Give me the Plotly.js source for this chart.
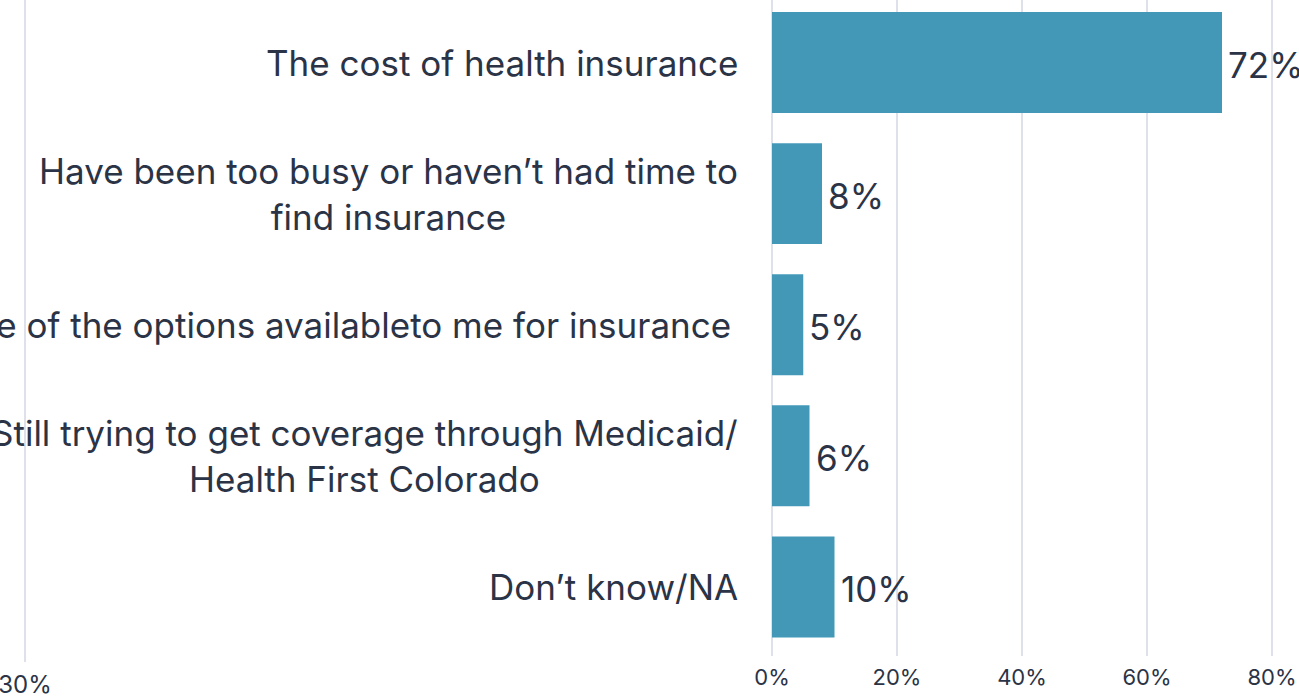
<!DOCTYPE html>
<html>
<head>
<meta charset="utf-8">
<script src="https://cdn.plot.ly/plotly-3.0.1.min.js"></script>
<style>html,body{margin:0;padding:0;background:#fff;}#chart{width:1299px;height:697px;}</style>
</head>
<body>
<div id="chart"></div>
<script>
const categories = [
  "The cost of health insurance",
  "Have been too busy or haven’t had time to<br>find insurance",
  "Not aware of the options availableto me for insurance\u2009",
  "Still trying to get coverage through Medicaid/<br>Health First Colorado",
  "Don’t know/NA"
];
const values = [72, 8, 5, 6, 10];
const valueLabels = ["72%", "8%", "5%", "6%", "10%"];
const tickVals = [0, 20, 40, 60, 80];
const tickText = ["0%", "20%", "40%", "60%", "80%"];
const leftTickVals = [30];
const leftTickText = ["30%"];

const TXT = '#2b3346';
const FONT = 'Inter, "Liberation Sans", Arial, sans-serif';
const W = 1299, H = 697;

const traces = [
  {
    type: 'bar', orientation: 'h',
    x: values, y: categories,
    marker: {color: '#4398b8'},
    width: 0.77,
    hoverinfo: 'none',
    xaxis: 'x', yaxis: 'y'
  },
  {
    type: 'scatter', mode: 'markers', x: [0], y: [-10],
    marker: {opacity: 0},
    xaxis: 'x2', yaxis: 'y2', hoverinfo: 'none', showlegend: false
  }
];

const annotations = [];
categories.forEach((c, i) => {
  annotations.push({
    xref: 'x', yref: 'y', x: 0, y: c, xanchor: 'right', yanchor: 'middle',
    xshift: -32, yshift: 0, text: c, align: 'center', showarrow: false,
    font: {family: FONT, size: 35, color: TXT}
  });
  annotations.push({
    xref: 'x', yref: 'y', x: values[i], y: c, xanchor: 'left', yanchor: 'middle',
    xshift: 4, yshift: -2, text: valueLabels[i], showarrow: false,
    font: {family: FONT, size: 35, color: TXT}
  });
});

const x2Width = 0.2 * W;
const layout = {
  width: W, height: H,
  margin: {l: 0, r: 0, t: 0, b: 35, pad: 0},
  paper_bgcolor: '#ffffff', plot_bgcolor: 'rgba(0,0,0,0)',
  showlegend: false,
  bargap: 0.23,
  xaxis: {
    domain: [772 / W, 1], range: [0, (W - 772) / 6.25],
    tickvals: tickVals, ticktext: tickText,
    showgrid: true, gridcolor: '#dfe1ea', gridwidth: 2,
    zeroline: true, zerolinecolor: '#dfe1ea', zerolinewidth: 2,
    showline: false, ticks: 'outside', ticklen: 2, tickcolor: 'rgba(0,0,0,0)',
    tickfont: {family: FONT, size: 22, color: TXT},
    ticklabeloverflow: 'allow',
    fixedrange: true
  },
  yaxis: {
    domain: [6 / 662, 1],
    type: 'category',
    range: [4.527, -0.477],
    showticklabels: false, showgrid: false, zeroline: false, showline: false,
    ticks: '', fixedrange: true
  },
  xaxis2: {
    domain: [0, 0.2], range: [29, 29 + x2Width / 25], anchor: 'y2',
    tickvals: leftTickVals, ticktext: leftTickText,
    showgrid: true, gridcolor: '#dfe1ea', gridwidth: 2,
    zeroline: false, showline: false,
    ticks: 'outside', ticklen: 1, tickcolor: 'rgba(0,0,0,0)',
    tickfont: {family: FONT, size: 24, color: TXT},
    ticklabeloverflow: 'allow',
    fixedrange: true
  },
  yaxis2: {
    domain: [0, 1], anchor: 'x2', range: [0, 1],
    showticklabels: false, showgrid: false, zeroline: false, showline: false,
    ticks: '', fixedrange: true
  },
  annotations: annotations
};

Plotly.newPlot('chart', traces, layout, {displayModeBar: false, staticPlot: true});
</script>
</body>
</html>
